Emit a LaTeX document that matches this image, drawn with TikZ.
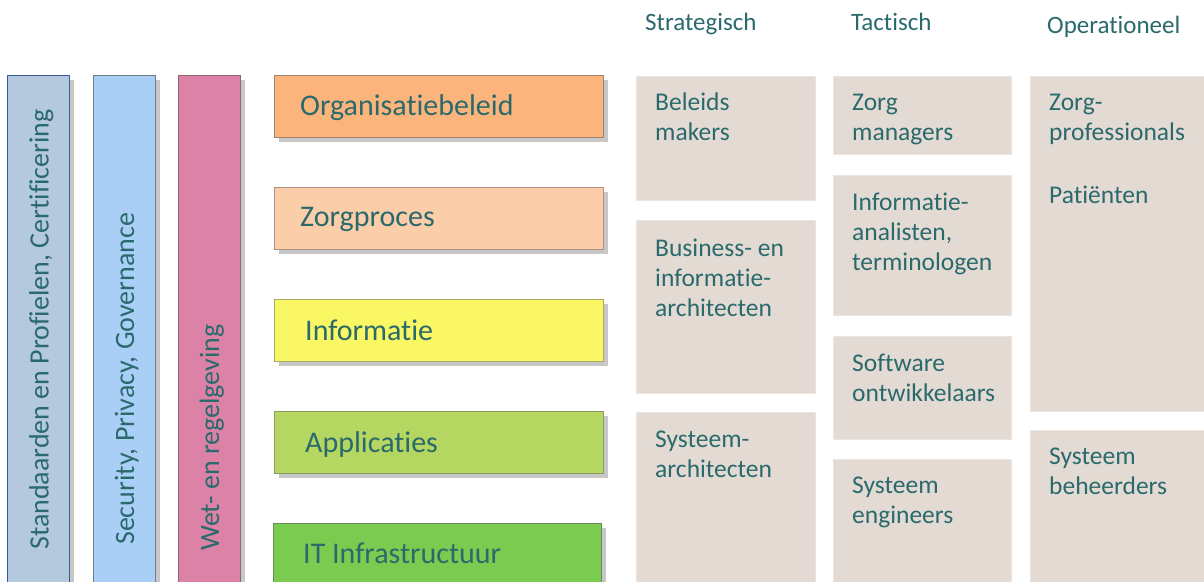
\documentclass[tikz,border=0pt]{standalone}
\usepackage{fontspec}
\setmainfont[RawFeature={-liga;-dlig}]{Carlito}
\usetikzlibrary{shadows}
\definecolor{txt}{HTML}{2A6A6C}
\definecolor{barA}{HTML}{B4C9DE}
\definecolor{barAline}{HTML}{3A5A9A}
\definecolor{barB}{HTML}{AACFF6}
\definecolor{barBline}{HTML}{6F7F8A}
\definecolor{barC}{HTML}{DC82A6}
\definecolor{barCline}{HTML}{8A6A70}
\definecolor{layA}{HTML}{FBB47C}
\definecolor{layAline}{HTML}{A0806A}
\definecolor{layB}{HTML}{FCCDA9}
\definecolor{layBline}{HTML}{B09080}
\definecolor{layC}{HTML}{F9F763}
\definecolor{layCline}{HTML}{A8A868}
\definecolor{layD}{HTML}{B5D660}
\definecolor{layDline}{HTML}{8A9A60}
\definecolor{layE}{HTML}{7BCB51}
\definecolor{layEline}{HTML}{6A8A60}
\definecolor{rolefill}{HTML}{E3DAD3}
\definecolor{roleline}{HTML}{ECE5DF}
\tikzset{
  shade/.style={drop shadow={shadow xshift=4pt,shadow yshift=-4pt,fill=black,opacity=0.22}},
  bar/.style={rectangle, line width=1.2pt, shade, minimum width=62pt, minimum height=540pt, anchor=north west, inner sep=0pt},
  bartext/.style={rotate=90, anchor=base west, inner sep=0pt, text=txt, font=\fontsize{28}{34}\selectfont},
  layer/.style={rectangle, line width=1.2pt, shade, minimum width=329pt, minimum height=62pt, anchor=north west, inner sep=0pt},
  layertext/.style={anchor=base west, inner sep=0pt, text=txt, font=\fontsize{30}{36}\selectfont},
  role/.style={rectangle, fill=rolefill, draw=roleline, line width=0.8pt, anchor=north west, inner sep=0pt},
  roletext/.style={anchor=base west, align=left, inner sep=0pt, text=txt, font=\fontsize{25.5}{30}\selectfont},
  header/.style={anchor=base west, inner sep=0pt, text=txt, font=\fontsize{25}{28}\selectfont},
}
\begin{document}
\begin{tikzpicture}[x=1pt,y=-1pt]
\useasboundingbox (0,0) rectangle (1204,581);
\clip (0,0) rectangle (1204,581);
\fill[white] (0,0) rectangle (1204,581);

% vertical bars
\node[bar, fill=barA, draw=barAline] (barA) at (7,75) {};
\node[bar, fill=barB, draw=barBline] (barB) at (93,75) {};
\node[bar, fill=barC, draw=barCline] (barC) at (178,75) {};
\node[bartext] (barAt) at (48.5,550) {Standaarden en Profielen, Certificering};
\node[bartext] (barBt) at (134,545) {Security, Privacy, Governance};
\node[bartext] (barCt) at (219,551) {Wet- en regelgeving};

% layers
\node[layer, fill=layA, draw=layAline] (layA) at (274,75) {};
\node[layer, fill=layB, draw=layBline] (layB) at (274,187) {};
\node[layer, fill=layC, draw=layCline] (layC) at (274,299) {};
\node[layer, fill=layD, draw=layDline] (layD) at (274,411) {};
\node[layer, fill=layE, draw=layEline, minimum width=328pt] (layE) at (273,523) {};
\node[layertext] (layAt) at (300,115) {Organisatiebeleid};
\node[layertext] (layBt) at (300,226) {Zorgproces};
\node[layertext] (layCt) at (305,340) {Informatie};
\node[layertext] (layDt) at (305,452) {Applicaties};
\node[layertext] (layEt) at (303,563) {IT Infrastructuur};

% headers
\node[header] (hS) at (645,30) {Strategisch};
\node[header] (hT) at (851,30) {Tactisch};
\node[header] (hO) at (1047,33) {Operationeel};

% strategisch column
\node[role, minimum width=179pt, minimum height=124pt] (s1) at (636,76) {};
\node[role, minimum width=179pt, minimum height=173pt] (s2) at (636,220) {};
\node[role, minimum width=179pt, minimum height=190pt] (s3) at (636,412) {};
\node[roletext] (s1t) at (655,140) {Beleids\\makers};
\node[roletext] (s2t) at (655,316) {Business- en\\informatie-\\architecten};
\node[roletext] (s3t) at (655,477) {Systeem-\\architecten};

% tactisch column
\node[role, minimum width=178pt, minimum height=78pt] (t1) at (833,76) {};
\node[role, minimum width=178pt, minimum height=140pt] (t2) at (833,175) {};
\node[role, minimum width=178pt, minimum height=103pt] (t3) at (833,336) {};
\node[role, minimum width=178pt, minimum height=150pt] (t4) at (833,459) {};
\node[roletext] (t1t) at (852,140) {Zorg\\managers};
\node[roletext] (t2t) at (852,270) {Informatie-\\analisten,\\terminologen};
\node[roletext] (t3t) at (852,401) {Software\\ontwikkelaars};
\node[roletext] (t4t) at (852,523) {Systeem\\engineers};

% operationeel column
\node[role, minimum width=190pt, minimum height=335pt] (o1) at (1030,76) {};
\node[role, minimum width=190pt, minimum height=170pt] (o2) at (1030,430) {};
\node[roletext] (o1t) at (1049,203) {Zorg-\\professionals\\[33pt]Patiënten};
\node[roletext] (o2t) at (1049,494) {Systeem\\beheerders};
\end{tikzpicture}
\end{document}
